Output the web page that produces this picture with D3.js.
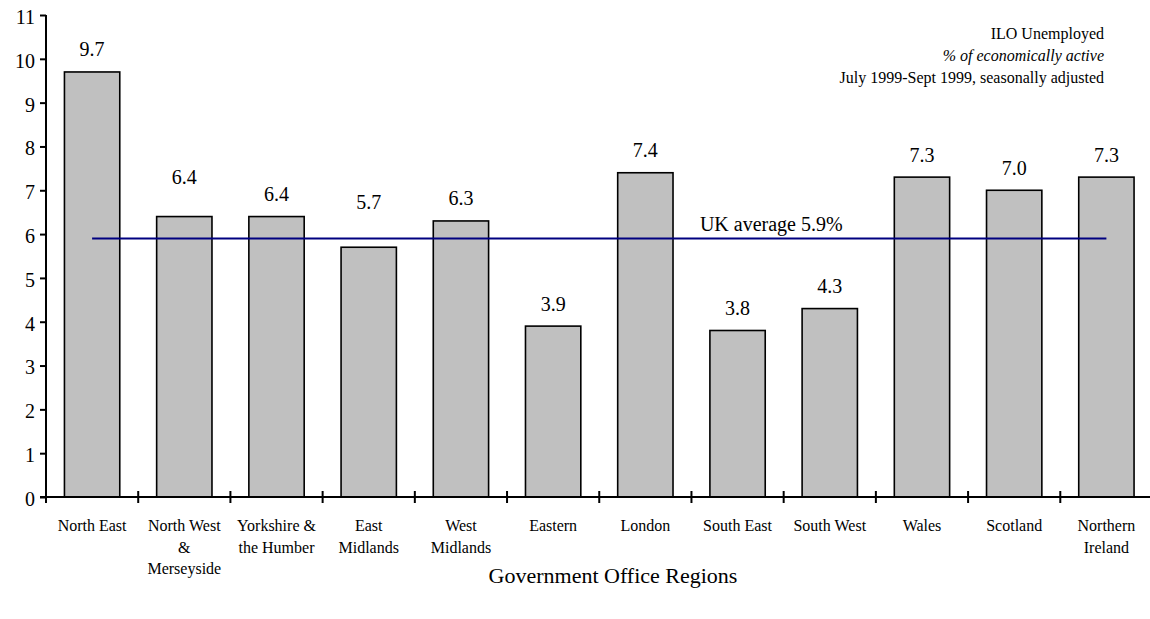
<!DOCTYPE html>
<html>
<head>
<meta charset="utf-8">
<script src="https://cdn.jsdelivr.net/npm/d3@7"></script>
<style>
  html, body { margin: 0; padding: 0; background: #fff; }
  svg { display: block; font-family: "Liberation Serif", "Times New Roman", serif; }
</style>
</head>
<body>
<div id="chart"></div>
<script>
// ----- dati
var regions = [
    "North East", "North West\n&\nMerseyside", "Yorkshire &\nthe Humber", "East\nMidlands",
    "West\nMidlands", "Eastern", "London", "South East", "South West", "Wales",
    "Scotland", "Northern\nIreland"
];
var unemployed = [9.7, 6.4, 6.4, 5.7, 6.3, 3.9, 7.4, 3.8, 4.3, 7.3, 7.0, 7.3];
var ukAverage = 5.9;
var yTicks = [0, 1, 2, 3, 4, 5, 6, 7, 8, 9, 10, 11];
var noteLines = ["ILO Unemployed", "% of economically active", "July 1999-Sept 1999, seasonally adjusted"];

// ----- dimensioni
var w = 1150;
var h = 619;

// le etichette di due barre sono spostate in alto nel grafico originale
var labelLift = 15.5;
var labelLiftExtra = { 1: 33, 3: 38 };

var svg = d3.select('#chart').append('svg')
    .attr('width', w)
    .attr('height', h)
    .attr('viewBox', '0 0 ' + w + ' ' + h);

var x = d3.scaleBand()
    .domain(regions)
    .range([46, 1152.5])
    .paddingInner(0.4)
    .paddingOuter(0.2);

var y = d3.scaleLinear()
    .domain([0, 11])
    .range([497, 15]);

// ----- barre
svg.append('g').selectAll('rect')
    .data(unemployed)
    .enter().append('rect')
    .attr('x', function (d, i) { return x(regions[i]); })
    .attr('y', function (d) { return y(d); })
    .attr('width', x.bandwidth())
    .attr('height', function (d) { return y(0) - y(d); })
    .attr('fill', '#c0c0c0')
    .attr('stroke', '#000')
    .attr('stroke-width', 1.6);

// ----- etichette valori
svg.append('g').selectAll('text')
    .data(unemployed)
    .enter().append('text')
    .attr('x', function (d, i) { return x(regions[i]) + x.bandwidth() / 2; })
    .attr('y', function (d, i) { return y(d) - (labelLiftExtra[i] || labelLift); })
    .attr('text-anchor', 'middle')
    .attr('font-size', 20)
    .text(function (d) { return d.toFixed(1); });

// ----- asse y
var yAxis = svg.append('g')
    .attr('transform', 'translate(46,0)')
    .call(d3.axisLeft(y).tickValues(yTicks).tickSize(6).tickPadding(5).tickFormat(d3.format('d')));
yAxis.select('.domain').attr('stroke', '#000').attr('stroke-width', 2).attr('d', 'M0,' + y(11) + 'V' + y(0));
yAxis.selectAll('.tick line').attr('stroke', '#000').attr('stroke-width', 2);
yAxis.selectAll('.tick text')
    .attr('font-family', '"Liberation Serif", serif')
    .attr('font-size', 20)
    .attr('fill', '#000')
    .attr('dy', '0.42em');

// ----- asse x (tacche ai confini delle categorie)
var xAxis = svg.append('g');
xAxis.append('line')
    .attr('x1', 40).attr('x2', w)
    .attr('y1', y(0)).attr('y2', y(0))
    .attr('stroke', '#000').attr('stroke-width', 2);
var step = x.step();
var edges = d3.range(regions.length + 1).map(function (k) { return x.range()[0] + k * step; });
xAxis.selectAll('line.xtick')
    .data(edges)
    .enter().append('line')
    .attr('class', 'xtick')
    .attr('x1', function (d) { return d; }).attr('x2', function (d) { return d; })
    .attr('y1', y(0) - 6).attr('y2', y(0) + 6)
    .attr('stroke', '#000').attr('stroke-width', 2);

// etichette categorie su piu righe
var cat = xAxis.selectAll('text.cat')
    .data(regions)
    .enter().append('text')
    .attr('class', 'cat')
    .attr('text-anchor', 'middle')
    .attr('font-size', 16)
    .attr('x', function (d) { return x(d) + x.bandwidth() / 2; })
    .attr('y', 531);
cat.each(function (d) {
    var t = d3.select(this);
    d.split('\n').forEach(function (line, j) {
        t.append('tspan')
            .attr('x', x(d) + x.bandwidth() / 2)
            .attr('dy', j === 0 ? 0 : 21.7)
            .text(line);
    });
});

// titolo asse
svg.append('text')
    .attr('x', 613)
    .attr('y', 583)
    .attr('text-anchor', 'middle')
    .attr('font-size', 22)
    .text('Government Office Regions');

// ----- linea media UK
var xFirst = x(regions[0]) + x.bandwidth() / 2;
var xLast = x(regions[regions.length - 1]) + x.bandwidth() / 2;
svg.append('line')
    .attr('x1', xFirst).attr('x2', xLast)
    .attr('y1', y(ukAverage)).attr('y2', y(ukAverage))
    .attr('stroke', '#000080')
    .attr('stroke-width', 2);

svg.append('text')
    .attr('x', x('South East') - 10)
    .attr('y', y(ukAverage) - 7)
    .attr('font-size', 20)
    .text('UK average ' + ukAverage + '%');

// ----- nota in alto a destra
svg.append('g').selectAll('text')
    .data(noteLines)
    .enter().append('text')
    .attr('x', 1104)
    .attr('y', function (d, i) { return 38.5 + i * 22; })
    .attr('text-anchor', 'end')
    .attr('font-size', 16)
    .attr('font-style', function (d, i) { return i === 1 ? 'italic' : 'normal'; })
    .text(function (d) { return d; });
</script>
</body>
</html>
